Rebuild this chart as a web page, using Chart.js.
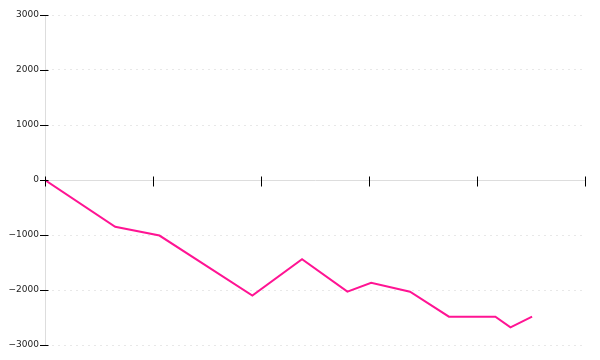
<!DOCTYPE html>
<html>
<head>
<meta charset="utf-8">
<script src="https://cdn.jsdelivr.net/npm/chart.js@4"></script>
<style>
html,body{margin:0;padding:0;background:#fff;}
#wrap{width:600px;height:360px;position:relative;}
</style>
</head>
<body>
<div id="wrap"><canvas id="c" width="600" height="360"></canvas></div>
<script>
const xValues = [0, 0.65, 1.06, 1.92, 2.38, 2.80, 3.02, 3.38, 3.74, 4.17, 4.31, 4.51];
const yValues = [0, -850, -1010, -2100, -1440, -2030, -1870, -2030, -2485, -2485, -2680, -2485];
const yTickValues = [-3000, -2000, -1000, 0, 1000, 2000, 3000];

const points = xValues.map((x, i) => ({x: x, y: yValues[i]}));

const tickMarks = {
  id: 'tickMarks',
  afterDraw(chart) {
    const ctx = chart.ctx;
    const xs = chart.scales.x, ys = chart.scales.y;
    const y0 = Math.round(ys.getPixelForValue(0)) + 0.5;
    const left = Math.round(chart.chartArea.left) + 0.5;
    ctx.save();
    ctx.strokeStyle = '#000';
    ctx.lineWidth = 1;
    ctx.beginPath();
    xs.ticks.forEach(t => {
      const px = Math.round(xs.getPixelForValue(t.value)) + 0.5;
      ctx.moveTo(px, y0 - 4);
      ctx.lineTo(px, y0 + 6);
    });
    ys.ticks.forEach(t => {
      const py = Math.round(ys.getPixelForValue(t.value)) + 0.5;
      ctx.moveTo(left - 5.5, py);
      ctx.lineTo(left + 3, py);
    });
    ctx.stroke();
    ctx.restore();
  }
};

new Chart(document.getElementById('c'), {
  type: 'line',
  data: {
    datasets: [{
      data: points,
      borderColor: '#ff1493',
      backgroundColor: '#ff1493',
      borderWidth: 2,
      pointRadius: 0,
      tension: 0,
      fill: false
    }]
  },
  options: {
    responsive: false,
    animation: false,
    layout: {padding: {top: 15, bottom: 15, right: 15, left: 0}},
    plugins: {legend: {display: false}, tooltip: {enabled: false}},
    scales: {
      x: {
        type: 'linear',
        position: {y: 0},
        min: 0,
        max: 5,
        ticks: {display: false, stepSize: 1},
        grid: {display: true, drawOnChartArea: false, drawTicks: false},
        border: {display: true, color: '#dddddd', width: 1}
      },
      y: {
        type: 'linear',
        min: -3000,
        max: 3000,
        afterBuildTicks(scale) { scale.ticks = yTickValues.map(v => ({value: v})); },
        afterFit(scale) { scale.width = 45; },
        ticks: {
          color: '#222',
          padding: 6,
          font: {family: 'DejaVu Sans', size: 9},
          callback: v => String(v).replace('-', '\u2212')
        },
        grid: {
          color: '#e8e8e8',
          drawTicks: false,
          lineWidth: 1
        },
        border: {display: true, color: '#dddddd', width: 1, dash: [2, 4]}
      }
    }
  },
  plugins: [tickMarks]
});
</script>
</body>
</html>
